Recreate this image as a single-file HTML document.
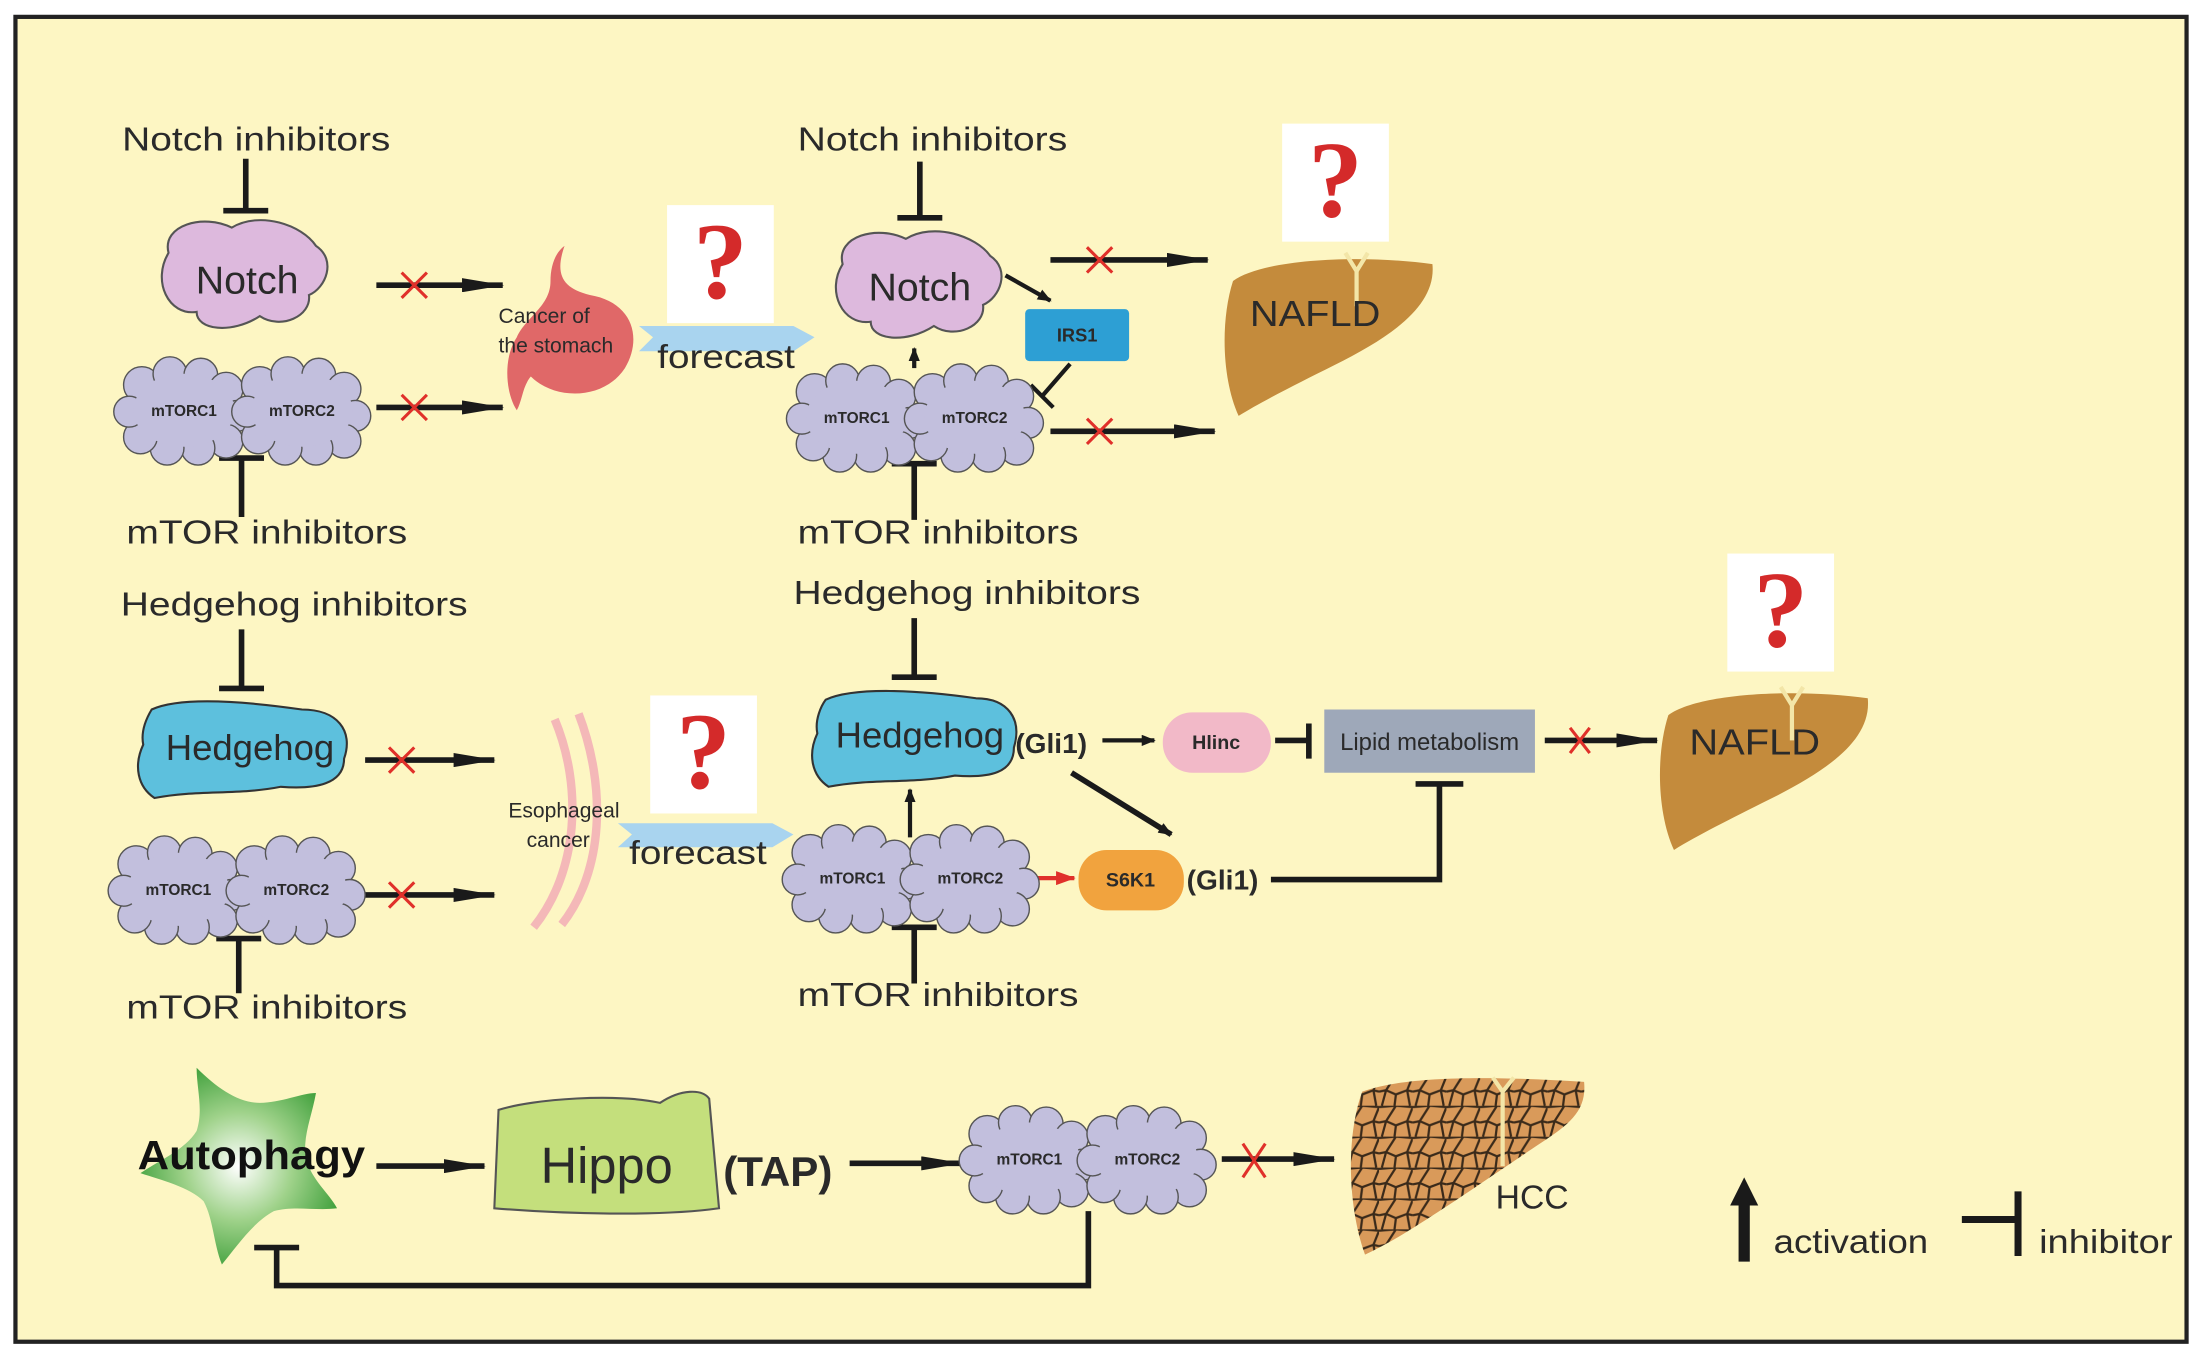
<!DOCTYPE html>
<html><head><meta charset="utf-8"><style>
html,body{margin:0;padding:0;background:#fff;}
svg{display:block;}
text{font-family:"Liberation Sans",sans-serif;fill:#2a2a2a;}
</style></head><body>
<svg width="2202" height="1360" viewBox="0 0 1568 968" preserveAspectRatio="none" xmlns="http://www.w3.org/2000/svg">
<defs>
<marker id="ah" markerWidth="10" markerHeight="8" refX="9" refY="4" orient="auto" markerUnits="userSpaceOnUse" viewBox="0 0 10 8">
<path d="M0,0 L10,4 L0,8 Z" fill="#1a1a1a"/></marker>
<marker id="ahb" markerWidth="30" markerHeight="10" refX="29" refY="5" orient="auto" markerUnits="userSpaceOnUse" viewBox="0 0 30 10">
<path d="M0,0 L30,5 L0,10 Z" fill="#1a1a1a"/></marker>
<marker id="ahr" markerWidth="14" markerHeight="10" refX="13" refY="5" orient="auto" markerUnits="userSpaceOnUse"><path d="M0,0 L14,5 L0,10 Z" fill="#e0302a"/></marker>
<pattern id="cells" width="24" height="22" patternUnits="userSpaceOnUse">
<rect width="24" height="22" fill="#d99a5a"/>
<path d="M0,1 L12,0 L24,1 M0,12 L5,11 L12,0 M5,11 L12,14 L20,11 L24,12 M20,11 L24,1 M12,14 L11,22 M5,11 L2,22 M20,11 L22,22" stroke="#3a2a1a" stroke-width="1.6" fill="none"/>
</pattern>
<radialGradient id="star" cx="0.5" cy="0.5" r="0.55"><stop offset="0" stop-color="#ffffff"/><stop offset="0.5" stop-color="#9fd28a"/><stop offset="1" stop-color="#3e9f3a"/></radialGradient>
<g id="cloud">
<g fill="#c2bfdd" stroke="#555" stroke-width="1">
<circle cx="-30" cy="-18" r="13"/><circle cx="-10" cy="-26" r="12"/><circle cx="12" cy="-25" r="12"/><circle cx="30" cy="-15" r="12"/>
<circle cx="38" cy="4" r="11"/><circle cx="30" cy="22" r="12"/><circle cx="10" cy="27" r="12"/><circle cx="-12" cy="27" r="12"/>
<circle cx="-31" cy="19" r="12"/><circle cx="-39" cy="1" r="11"/></g>
<ellipse cx="0" cy="0" rx="36" ry="26" fill="#c2bfdd"/>
</g>
<g id="pair">
<use href="#cloud" x="-42"/><use href="#cloud" x="42"/>
<text x="-42" y="4" font-size="11" font-weight="bold" text-anchor="middle">mTORC1</text>
<text x="42" y="4" font-size="11" font-weight="bold" text-anchor="middle">mTORC2</text>
</g>
<g id="qm">
<rect x="0" y="0" width="76" height="84" fill="#fff"/>
<text x="38" y="66" font-size="78" font-weight="bold" text-anchor="middle" style="fill:#d42a2a;font-family:'Liberation Serif',serif">?</text>
</g>
<g id="liver">
<path d="M8,22 C30,6 100,3 150,10 C153,40 120,62 80,82 C52,96 28,108 12,118 C0,92 -1,50 8,22 Z" fill="#c48b3c"/>
<path d="M88,2 L96,15 L104,2" stroke="#f3e6a8" stroke-width="3" fill="none"/><path d="M96,15 L96,40" stroke="#f3e6a8" stroke-width="3"/>
</g>
</defs>
<rect x="0" y="0" width="1568" height="968" fill="#fff"/>
<rect x="11" y="12" width="1546" height="943" fill="#fdf6c3" stroke="#222" stroke-width="3"/>

<g stroke="#1a1a1a" stroke-width="4" fill="none">
<path d="M175,113 V150 M159,150 H191"/>
<path d="M172,368 V326 M156,326 H188"/>
<path d="M268,203 H358" marker-end="url(#ahb)"/>
<path d="M268,290 H358" marker-end="url(#ahb)"/>
<path d="M655,115 V155 M639,155 H671"/>
<path d="M651,370 V330 M635,330 H667"/>
<path d="M716,196 L748,214" stroke-width="3" marker-end="url(#ah)"/>
<path d="M762,259 L742,282 M734,274 L750,290" stroke-width="3"/>
<path d="M651,262 V248" stroke-width="3" marker-end="url(#ah)"/>
<path d="M748,185 H860" marker-end="url(#ahb)"/>
<path d="M748,307 H865" marker-end="url(#ahb)"/>
<path d="M172,448 V490 M156,490 H188"/>
<path d="M170,707 V668 M154,668 H186"/>
<path d="M260,541 H352" marker-end="url(#ahb)"/>
<path d="M258,637 H352" marker-end="url(#ahb)"/>
<path d="M651,440 V482 M635,482 H667"/>
<path d="M651,700 V660 M635,660 H667"/>
<path d="M785,527 H822" stroke-width="3" marker-end="url(#ah)"/>
<path d="M908,527 H930 M932,515 V540" stroke-width="4"/>
<path d="M1100,527 H1180" marker-end="url(#ahb)"/>
<path d="M763,550 L834,594" stroke-width="4" marker-end="url(#ah)"/>
<path d="M648,596 V562" stroke-width="3" marker-end="url(#ah)"/>
<path d="M905,626 H1025 V560 M1008,558 H1042"/>
<path d="M268,830 H345" marker-end="url(#ahb)"/>
<path d="M605,828 H685" marker-end="url(#ahb)"/>
<path d="M870,825 H950" marker-end="url(#ahb)"/>
<path d="M775,862 V915 H197 V888 M181,888 H213"/>
<path d="M1397,868 H1436 M1437,848 V894" stroke-width="5"/>
</g>
<path d="M1242,898 V855" stroke="#1a1a1a" stroke-width="8"/><path d="M1232,858 L1242,838 L1252,858 Z" fill="#1a1a1a"/>
<path d="M730,625 H765" stroke="#e0302a" stroke-width="3" marker-end="url(#ahr)"/>

<g stroke="#e0302a" stroke-width="2.2">
<path d="M286,194 L304,212 M304,194 L286,212"/>
<path d="M286,281 L304,299 M304,281 L286,299"/>
<path d="M774,176 L792,194 M792,176 L774,194"/>
<path d="M774,298 L792,316 M792,298 L774,316"/>
<path d="M277,532 L295,550 M295,532 L277,550"/>
<path d="M277,628 L295,646 M295,628 L277,646"/>
<path d="M1118,518 L1132,536 M1132,518 L1118,536"/>
<path d="M885,814 L901,838 M901,814 L885,838"/>
</g>

<g font-size="24">
<text x="87" y="107" textLength="191" lengthAdjust="spacingAndGlyphs">Notch inhibitors</text>
<text x="90" y="387" textLength="200" lengthAdjust="spacingAndGlyphs">mTOR inhibitors</text>
<text x="568" y="107" textLength="192" lengthAdjust="spacingAndGlyphs">Notch inhibitors</text>
<text x="568" y="387" textLength="200" lengthAdjust="spacingAndGlyphs">mTOR inhibitors</text>
<text x="86" y="438" textLength="247" lengthAdjust="spacingAndGlyphs">Hedgehog inhibitors</text>
<text x="90" y="725" textLength="200" lengthAdjust="spacingAndGlyphs">mTOR inhibitors</text>
<text x="565" y="430" textLength="247" lengthAdjust="spacingAndGlyphs">Hedgehog inhibitors</text>
<text x="568" y="716" textLength="200" lengthAdjust="spacingAndGlyphs">mTOR inhibitors</text>
</g>

<path d="M120,180 C115,160 145,152 165,162 C185,150 215,160 225,175 C240,185 232,205 220,210 C222,225 200,235 185,225 C165,238 140,235 140,222 C120,225 108,200 120,180 Z" fill="#ddb9dd" stroke="#555" stroke-width="1.5"/>
<text x="176" y="209" font-size="28" text-anchor="middle">Notch</text>
<path d="M600,188 C595,168 625,160 645,170 C665,158 695,168 705,182 C720,192 712,212 700,217 C702,232 680,242 665,232 C645,245 620,242 620,229 C600,232 588,207 600,188 Z" fill="#ddb9dd" stroke="#555" stroke-width="1.5"/>
<text x="655" y="214" font-size="28" text-anchor="middle">Notch</text>

<use href="#pair" x="173" y="292"/>
<use href="#pair" x="652" y="297"/>
<use href="#pair" x="169" y="633"/>
<use href="#pair" x="649" y="625"/>
<use href="#pair" x="775" y="825"/>

<path d="M402,175 C395,195 400,205 420,210 C450,215 458,240 445,262 C430,285 395,285 378,268 C372,275 372,285 368,292 C360,280 358,255 368,240 C375,225 392,218 392,200 C392,190 395,180 402,175 Z" fill="#e06868"/>
<text x="355" y="230" font-size="15">Cancer of</text>
<text x="355" y="251" font-size="15">the stomach</text>
<use href="#qm" x="475" y="146"/>
<path d="M455,232 H565 L580,240 L565,250 H455 L465,240 Z" fill="#a9d4ef"/>
<text x="468" y="262" font-size="24" textLength="98" lengthAdjust="spacingAndGlyphs">forecast</text>

<rect x="730" y="220" width="74" height="37" rx="3" fill="#2d9fd4"/>
<text x="767" y="243" font-size="13" font-weight="bold" text-anchor="middle">IRS1</text>

<use href="#liver" x="870" y="178"/>
<text x="890" y="232" font-size="26" textLength="93" lengthAdjust="spacingAndGlyphs">NAFLD</text>
<use href="#qm" x="913" y="88"/>

<path d="M108,505 C130,495 180,500 215,505 C240,505 252,520 245,540 C245,558 225,562 200,560 C170,566 140,562 110,568 C98,560 95,545 102,530 C100,520 105,510 108,505 Z" fill="#5dc0dd" stroke="#333" stroke-width="1.5"/>
<text x="178" y="541" font-size="26" text-anchor="middle">Hedgehog</text>
<path d="M588,498 C610,488 660,492 695,497 C718,497 728,512 722,532 C722,550 705,554 680,552 C650,558 620,554 590,560 C578,552 575,537 582,522 C580,512 585,502 588,498 Z" fill="#5dc0dd" stroke="#333" stroke-width="1.5"/>
<text x="655" y="532" font-size="26" text-anchor="middle">Hedgehog</text>
<text x="723" y="536" font-size="20" font-weight="bold">(Gli1)</text>

<path d="M395,512 C415,560 412,620 380,660" stroke="#f4b8b8" stroke-width="6" fill="none"/>
<path d="M412,508 C432,560 430,620 400,658" stroke="#f4b8b8" stroke-width="6" fill="none"/>
<text x="362" y="582" font-size="15">Esophageal</text>
<text x="375" y="603" font-size="15">cancer</text>
<use href="#qm" x="463" y="495"/>
<path d="M440,586 H550 L565,594 L550,603 H440 L450,594 Z" fill="#a9d4ef"/>
<text x="448" y="615" font-size="24" textLength="98" lengthAdjust="spacingAndGlyphs">forecast</text>

<rect x="828" y="507" width="77" height="43" rx="21" fill="#f2b9c8"/>
<text x="866" y="533" font-size="14" font-weight="bold" text-anchor="middle">Hlinc</text>
<rect x="943" y="505" width="150" height="45" fill="#9ea8b9"/>
<text x="1018" y="534" font-size="17" text-anchor="middle">Lipid metabolism</text>
<use href="#liver" x="1180" y="487"/>
<text x="1203" y="537" font-size="26" textLength="93" lengthAdjust="spacingAndGlyphs">NAFLD</text>
<use href="#qm" x="1230" y="394"/>

<rect x="768" y="605" width="75" height="43" rx="20" fill="#f1a33e"/>
<text x="805" y="631" font-size="14" font-weight="bold" text-anchor="middle">S6K1</text>
<text x="845" y="633" font-size="20" font-weight="bold">(Gli1)</text>

<path d="M140,760 C155,775 170,785 185,785 C200,785 215,778 225,778 C222,795 215,810 218,825 C222,840 235,850 240,860 C225,862 210,858 195,862 C180,870 168,888 158,900 C152,885 152,868 145,855 C135,845 115,840 100,835 C115,825 132,818 140,805 C145,790 140,775 140,760 Z" fill="url(#star)"/>
<text x="98" y="832" font-size="29" font-weight="bold" style="fill:#111" textLength="162" lengthAdjust="spacingAndGlyphs">Autophagy</text>
<path d="M355,790 C380,782 440,778 470,785 C485,775 500,775 505,782 L512,860 C470,866 400,864 352,860 Z" fill="#c4df7c" stroke="#555" stroke-width="1.5"/>
<text x="432" y="842" font-size="36" text-anchor="middle">Hippo</text>
<text x="515" y="844" font-size="30" font-weight="bold">(TAP)</text>

<g transform="translate(958,765)">
<path d="M12,12 C40,2 90,0 170,5 C172,25 160,35 140,48 C110,68 90,82 70,95 C50,108 35,118 14,128 C2,95 0,45 12,12 Z" fill="url(#cells)"/>
<path d="M105,2 L112,12 L120,2 M112,12 L112,65" stroke="#f3e6a8" stroke-width="3" fill="none"/>
</g>
<text x="1065" y="860" font-size="24">HCC</text>

<text x="1263" y="892" font-size="24" textLength="110" lengthAdjust="spacingAndGlyphs">activation</text>
<text x="1452" y="892" font-size="24" textLength="95" lengthAdjust="spacingAndGlyphs">inhibitor</text>
</svg>
</body></html>
